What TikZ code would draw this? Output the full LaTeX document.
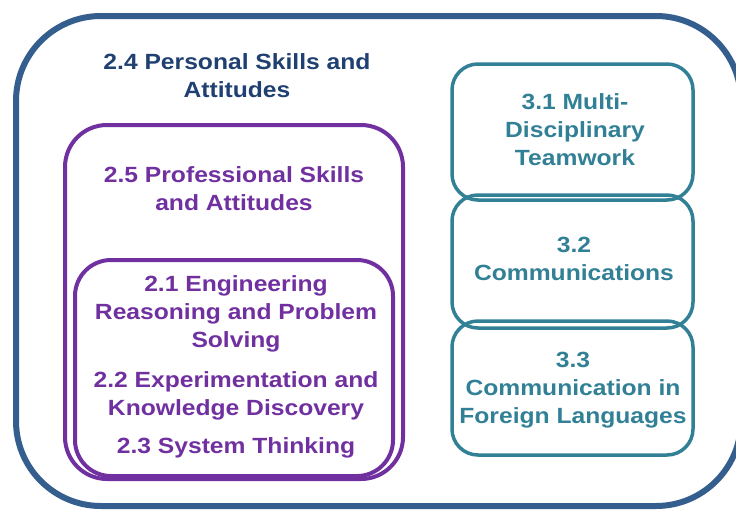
\documentclass[tikz,border=0pt]{standalone}
\usepackage{fontspec}
\setmainfont{Liberation Sans}[FakeStretch=1.12]
\definecolor{navyline}{RGB}{52,94,142}
\definecolor{navytext}{RGB}{31,64,112}
\definecolor{purp}{RGB}{112,48,160}
\definecolor{teal}{RGB}{49,128,150}
\tikzset{
  frame/.style={draw, rounded corners=#1, inner sep=0pt},
  lbl/.style={font=\bfseries\fontsize{22}{28}\selectfont, align=center, inner sep=0pt},
  tealbox/.style={frame=26pt, draw=teal, line width=3.5pt, minimum width=241pt},
}
\begin{document}
\begin{tikzpicture}[x=1pt,y=-1pt]
\useasboundingbox (0,0) rectangle (736,509);
% outer frame
\node[frame=85pt, draw=navyline, line width=6pt, minimum width=725pt, minimum height=490pt] (outer) at (378.5,261) {};
% purple frames
\node[frame=42pt, draw=purp, line width=4pt, minimum width=338pt, minimum height=354pt] (prof) at (234,302) {};
\node[frame=36pt, draw=purp, line width=4pt, minimum width=318pt, minimum height=216pt] (eng) at (234,368) {};
% teal frames
\node[tealbox, minimum height=136pt] (t31) at (572.5,132) {};
\node[tealbox, minimum height=133pt] (t32) at (572.5,261.5) {};
\node[tealbox, minimum height=134pt] (t33) at (572.5,388) {};
% labels
\node[lbl, text=teal] (l31) at (575,129.5) {3.1 Multi-\\Disciplinary\\Teamwork};
\node[lbl, text=teal] (l32) at (574,258.5) {3.2\\Communications};
\node[lbl, text=teal] (l33) at (573,390) {3.3\\Communication in\\Foreign Languages};
\node[lbl, text=navytext] (l24) at (237,76) {2.4 Personal Skills and\\Attitudes};
\node[lbl, text=purp] (l25) at (234,189) {2.5 Professional Skills\\and Attitudes};
\node[lbl, text=purp] (l21) at (236,313.5) {2.1 Engineering\\Reasoning and Problem\\Solving};
\node[lbl, text=purp] (l22) at (236,395.5) {2.2 Experimentation and\\Knowledge Discovery};
\node[lbl, text=purp] (l23) at (236,447.5) {2.3 System Thinking};
\end{tikzpicture}
\end{document}
